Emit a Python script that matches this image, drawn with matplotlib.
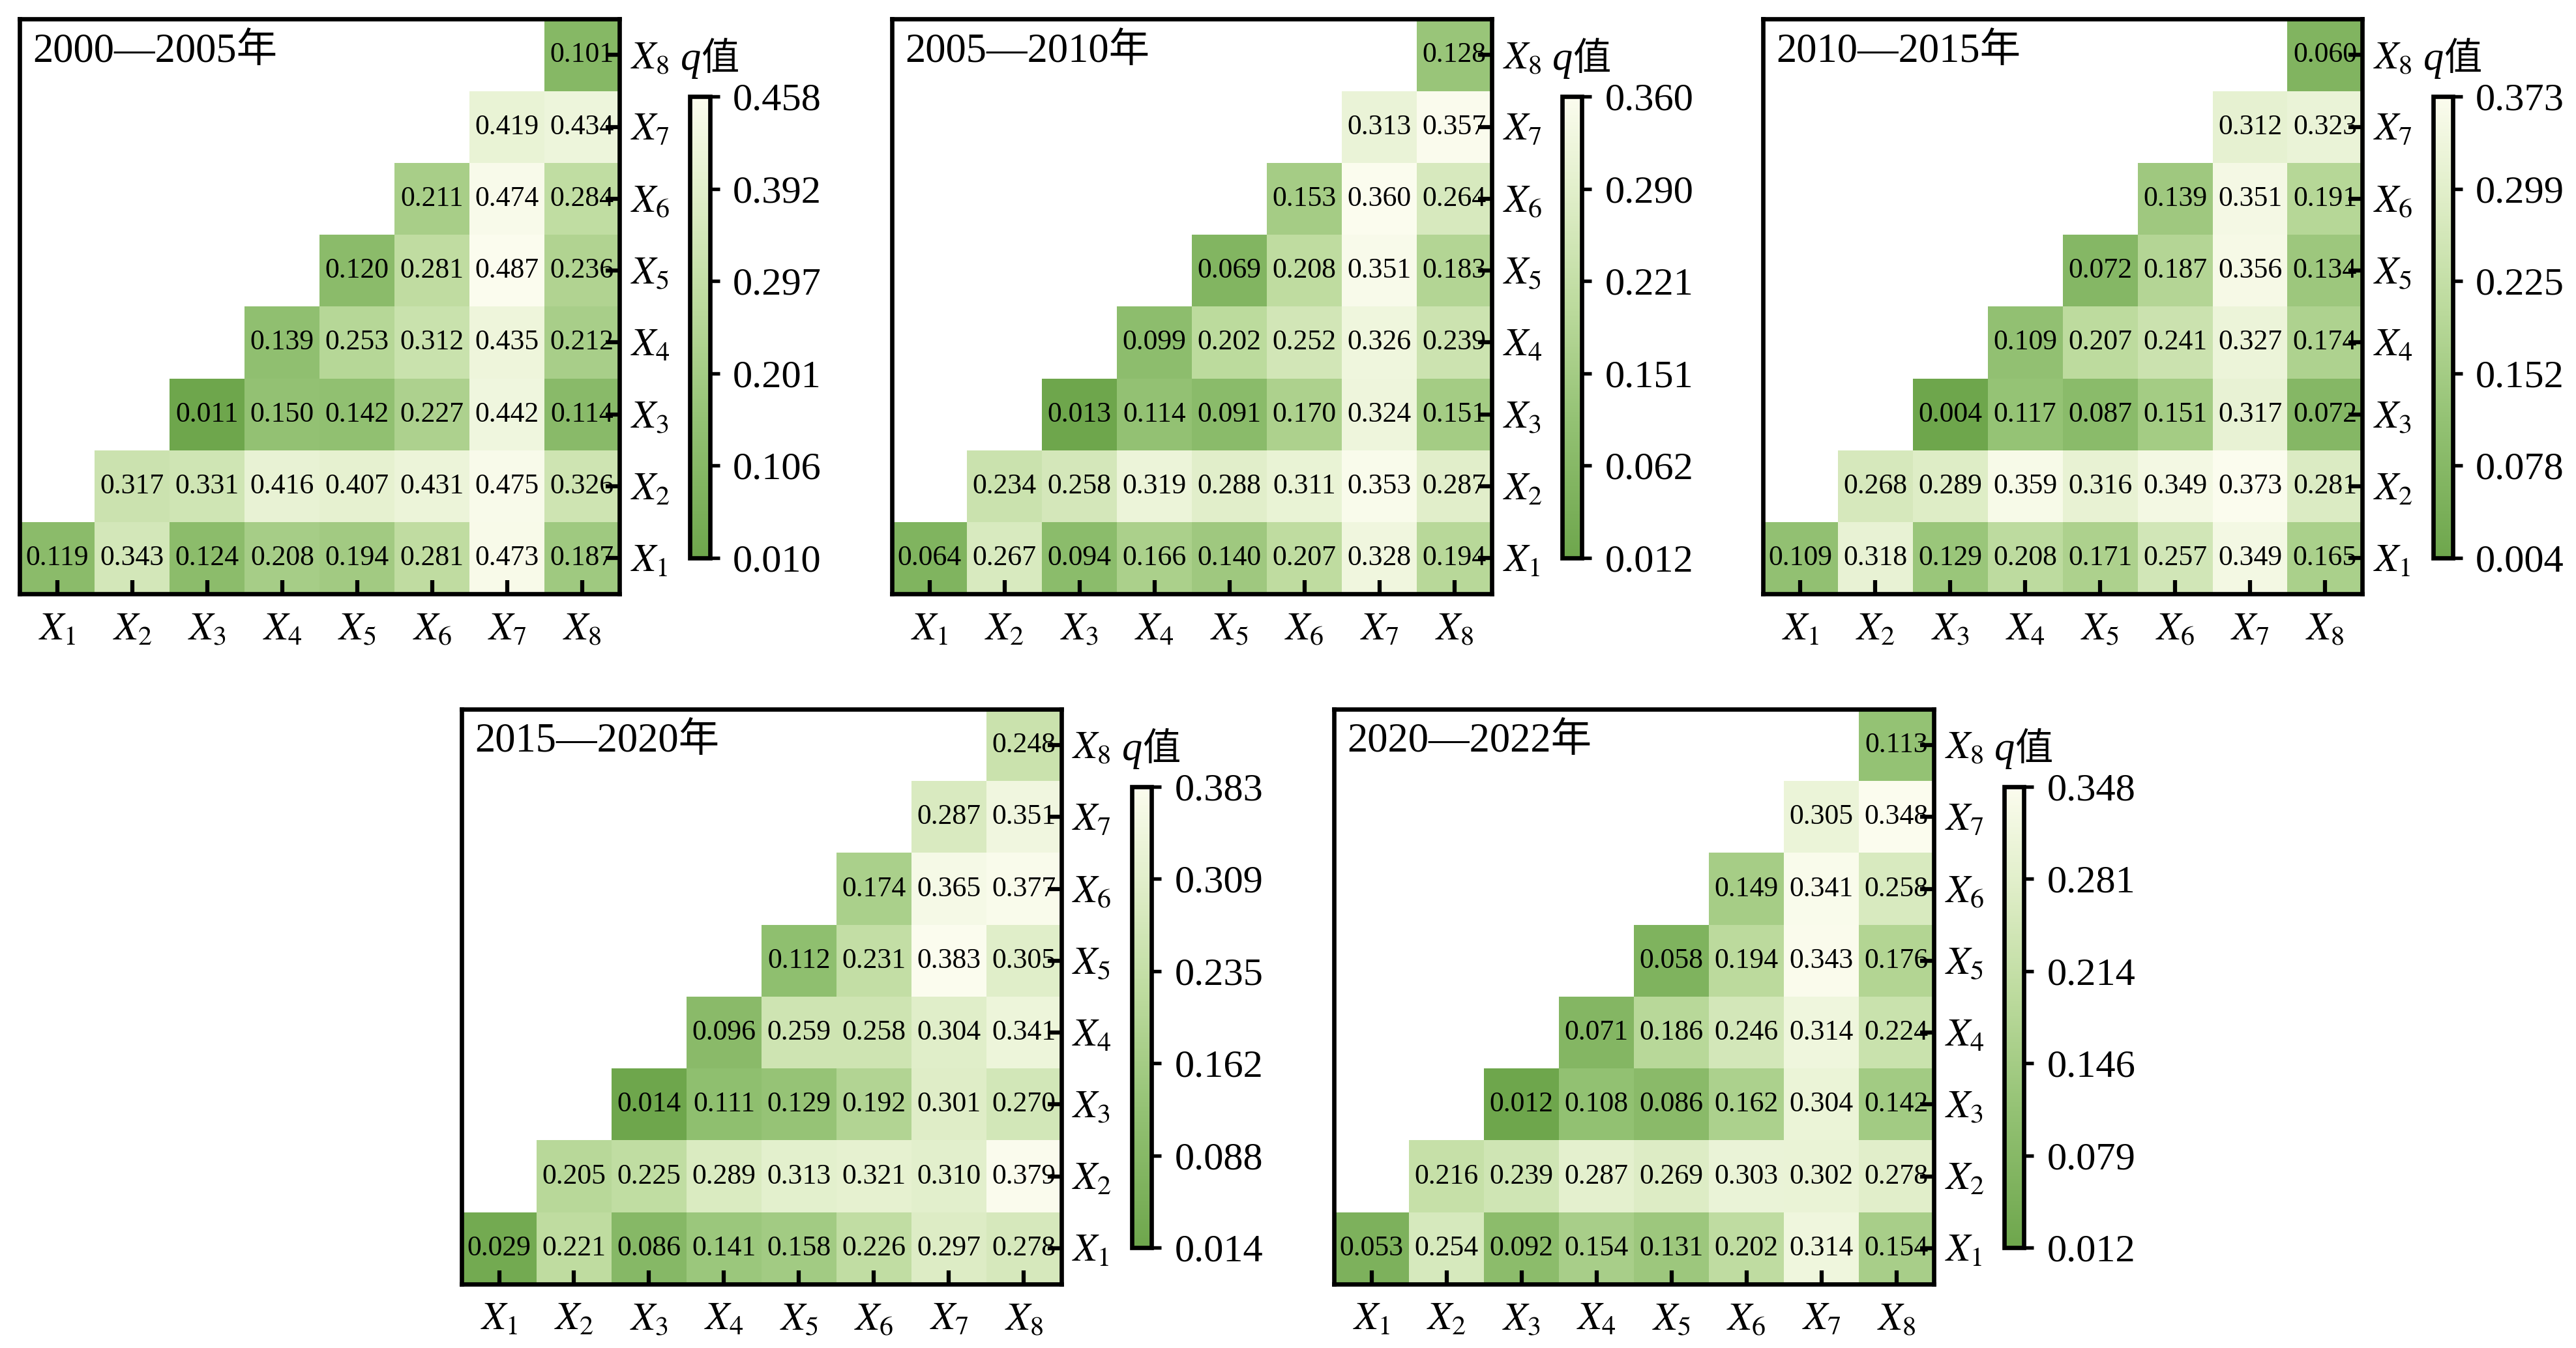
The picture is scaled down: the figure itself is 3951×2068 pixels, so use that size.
import numpy as np
import matplotlib
matplotlib.use('Agg')
import matplotlib.pyplot as plt
from matplotlib.colors import LinearSegmentedColormap

plt.rcParams['font.family'] = ['Liberation Serif', 'Noto Sans CJK SC']
plt.rcParams['mathtext.fontset'] = 'stix'

# interaction q values, row X_i holds columns X_i..X_8
factors = [r'$X_{%d}$' % i for i in range(1, 9)]
periods = ['2000—2005年', '2005—2010年', '2010—2015年', '2015—2020年', '2020—2022年']

q_2000_2005 = [
    [0.119, 0.343, 0.124, 0.208, 0.194, 0.281, 0.473, 0.187],
    [0.317, 0.331, 0.416, 0.407, 0.431, 0.475, 0.326],
    [0.011, 0.150, 0.142, 0.227, 0.442, 0.114],
    [0.139, 0.253, 0.312, 0.435, 0.212],
    [0.120, 0.281, 0.487, 0.236],
    [0.211, 0.474, 0.284],
    [0.419, 0.434],
    [0.101],
]
q_2005_2010 = [
    [0.064, 0.267, 0.094, 0.166, 0.140, 0.207, 0.328, 0.194],
    [0.234, 0.258, 0.319, 0.288, 0.311, 0.353, 0.287],
    [0.013, 0.114, 0.091, 0.170, 0.324, 0.151],
    [0.099, 0.202, 0.252, 0.326, 0.239],
    [0.069, 0.208, 0.351, 0.183],
    [0.153, 0.360, 0.264],
    [0.313, 0.357],
    [0.128],
]
q_2010_2015 = [
    [0.109, 0.318, 0.129, 0.208, 0.171, 0.257, 0.349, 0.165],
    [0.268, 0.289, 0.359, 0.316, 0.349, 0.373, 0.281],
    [0.004, 0.117, 0.087, 0.151, 0.317, 0.072],
    [0.109, 0.207, 0.241, 0.327, 0.174],
    [0.072, 0.187, 0.356, 0.134],
    [0.139, 0.351, 0.191],
    [0.312, 0.323],
    [0.060],
]
q_2015_2020 = [
    [0.029, 0.221, 0.086, 0.141, 0.158, 0.226, 0.297, 0.278],
    [0.205, 0.225, 0.289, 0.313, 0.321, 0.310, 0.379],
    [0.014, 0.111, 0.129, 0.192, 0.301, 0.270],
    [0.096, 0.259, 0.258, 0.304, 0.341],
    [0.112, 0.231, 0.383, 0.305],
    [0.174, 0.365, 0.377],
    [0.287, 0.351],
    [0.248],
]
q_2020_2022 = [
    [0.053, 0.254, 0.092, 0.154, 0.131, 0.202, 0.314, 0.154],
    [0.216, 0.239, 0.287, 0.269, 0.303, 0.302, 0.278],
    [0.012, 0.108, 0.086, 0.162, 0.304, 0.142],
    [0.071, 0.186, 0.246, 0.314, 0.224],
    [0.058, 0.194, 0.343, 0.176],
    [0.149, 0.341, 0.258],
    [0.305, 0.348],
    [0.113],
]

cbar_2000_2005 = ['0.010', '0.106', '0.201', '0.297', '0.392', '0.458']
cbar_2005_2010 = ['0.012', '0.062', '0.151', '0.221', '0.290', '0.360']
cbar_2010_2015 = ['0.004', '0.078', '0.152', '0.225', '0.299', '0.373']
cbar_2015_2020 = ['0.014', '0.088', '0.162', '0.235', '0.309', '0.383']
cbar_2020_2022 = ['0.012', '0.079', '0.146', '0.214', '0.281', '0.348']

all_q = [q_2000_2005, q_2005_2010, q_2010_2015, q_2015_2020, q_2020_2022]
all_cbar = [cbar_2000_2005, cbar_2005_2010, cbar_2010_2015, cbar_2015_2020, cbar_2020_2022]

cmap = LinearSegmentedColormap.from_list(
    'qgreen', [(0.0, '#6ea64c'), (0.3, '#94c274'), (0.55, '#bddb9e'),
               (0.8, '#e2efcb'), (1.0, '#fbfcee')])

# axes rectangles in figure fraction
w, h = 0.2328, 0.4265
rects = [
    [0.0077, 0.5593, w, h],
    [0.3463, 0.5593, w, h],
    [0.6843, 0.5593, w, h],
    [0.1792, 0.0474, w, h],
    [0.5179, 0.0474, w, h],
]

fig = plt.figure(figsize=(3951 / 300, 2068 / 300), dpi=300)

for period, q_rows, cb_labels, rect in zip(periods, all_q, all_cbar, rects):
    n = len(q_rows)
    mat = np.full((n, n), np.nan)
    for i, row in enumerate(q_rows):
        mat[i, i:] = row
    vals = mat[~np.isnan(mat)]
    vmin, vmax = vals.min(), vals.max()

    ax = fig.add_axes(rect)
    xs = np.arange(n + 1) + 0.5
    mesh = ax.pcolormesh(xs, xs, np.ma.masked_invalid(mat), cmap=cmap,
                         vmin=vmin, vmax=vmax, shading='flat')
    for i in range(n):
        for j in range(i, n):
            ax.text(j + 1, i + 1, '%.3f' % mat[i, j], ha='center', va='center',
                    fontsize=10.5, color='black')
    ax.set_xlim(0.5, n + 0.5)
    ax.set_ylim(0.5, n + 0.5)
    ax.set_xticks(np.arange(1, n + 1))
    ax.set_yticks(np.arange(1, n + 1))
    ax.set_xticklabels(factors)
    ax.set_yticklabels(factors)
    ax.tick_params(axis='x', direction='in', length=5, width=1.5, labelsize=14.5, pad=7,
                   top=False, bottom=True)
    ax.tick_params(axis='y', direction='in', length=5, width=1.5, labelsize=14.5, pad=4,
                   left=False, right=True, labelleft=False, labelright=True)
    for sp in ax.spines.values():
        sp.set_linewidth(1.6)
    ax.text(0.022, 0.943, period, transform=ax.transAxes, ha='left', va='center',
            fontsize=15)

    # colorbar next to the panel
    l, b, ww, hh = rect
    cax = fig.add_axes([l + ww + 0.0274, b + 0.027, 0.0076, 0.342])
    cb = fig.colorbar(mesh, cax=cax, ticks=np.linspace(vmin, vmax, 6))
    cb.ax.set_yticklabels(cb_labels)
    cb.outline.set_linewidth(1.6)
    cb.ax.tick_params(direction='out', length=3.5, width=1.3, labelsize=14.5, pad=5)

    qx = l + ww + 0.0315
    qy = b + hh - 0.0305
    fig.text(qx, qy, 'q', ha='right', va='center', fontsize=15, style='italic')
    fig.text(qx, qy, '值', ha='left', va='center', fontsize=14)

fig.savefig('out.png', dpi=300)
